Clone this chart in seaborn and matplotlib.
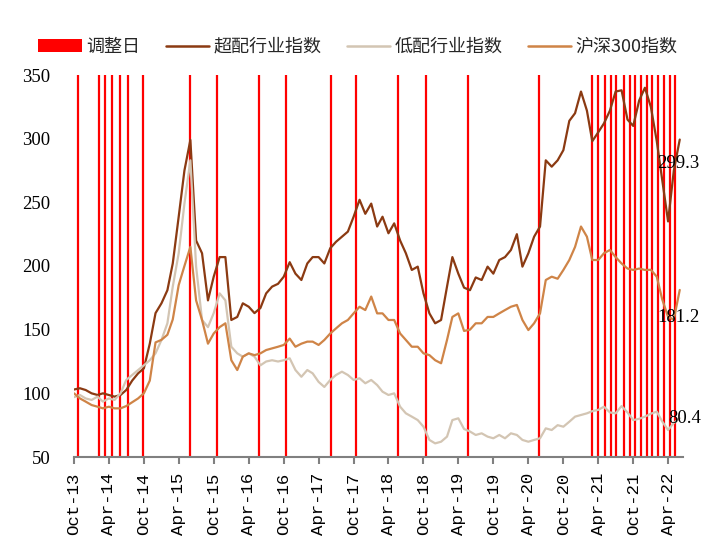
import numpy as np
import pandas as pd
import matplotlib
matplotlib.use('Agg')
import matplotlib.pyplot as plt
import matplotlib.dates as mdates
from matplotlib.patches import Patch
from matplotlib.lines import Line2D
import seaborn as sns

# ---------------- data ----------------
dates = pd.date_range('2013-10-01', '2022-06-01', freq='MS')

overweight = [103, 104, 102.6, 100, 98.7, 100, 98.7, 97.4, 98.7, 102.6,
              110, 115.7, 119.6, 139, 163, 170.7, 181, 202, 238.7, 275,
              299, 220, 210, 173, 191.6, 207, 207, 157.6, 160, 170.7,
              168, 163, 167, 178.5, 183.8, 186, 191.6, 203, 194, 189,
              202, 207, 207, 202, 214, 219, 223, 227, 238.7, 252,
              241, 249, 231, 238.7, 225.7, 233.5, 220, 210, 196.9, 199.5,
              178.5, 162.8, 155, 157.6, 183.8, 207, 194, 183, 181, 191,
              189, 199.5, 194, 204.7, 207, 212.6, 225, 199.5, 210, 223,
              231, 283, 278, 283, 291, 314, 320, 337, 322, 298,
              305, 312, 322, 337, 338, 315, 310, 330, 340, 325,
              298, 268, 235, 275, 299.3]

underweight = [97, 98.7, 96, 94.8, 97.4, 93.5, 96, 94.8, 100, 110.5,
               114.4, 118.3, 122, 126, 131.4, 141.9, 155, 183.8, 210, 249,
               283, 199.5, 157.6, 152, 163, 178.5, 173, 136.6, 131.4, 128.8,
               131.4, 128.8, 122, 125, 126, 125, 126, 127.5, 118.3, 113,
               118.3, 115.7, 109, 105, 110.5, 114.4, 117, 114.4, 110.5, 111.8,
               107.9, 110.5, 106.5, 101.3, 98.7, 100, 89.5, 84.3, 81.7, 79,
               73.8, 63.4, 60.7, 62, 66, 79, 80.4, 72, 70, 67.3,
               68.6, 66, 64.7, 67.3, 64.7, 68.6, 67.3, 63.4, 62, 63.4,
               64.7, 72.5, 71.2, 75, 73.8, 77.7, 81.7, 83, 84.3, 86,
               87, 89.5, 85, 84.3, 90, 85, 79, 80, 81.7, 84,
               85.6, 78, 71.2, 76.7, 80.4]

hs300 = [100, 96, 93.5, 90.8, 89.5, 88.2, 89.5, 88.2, 88.2, 90,
         93, 96, 100, 110, 140, 142, 146, 158, 185, 200,
         215, 173, 157.6, 139, 147, 152, 155, 126, 118.3, 128.8,
         131.4, 130, 131.4, 134, 135.3, 136.6, 138, 143, 136.6, 139,
         140.6, 140.6, 138, 141.9, 147, 151, 155, 157.6, 162.8, 168,
         165.4, 176, 162.8, 162.8, 157.6, 157.6, 147, 141.9, 136.6, 136.6,
         131.4, 130, 126, 123.6, 141.9, 160, 162.8, 149, 150, 155,
         155, 160, 160, 162.8, 165.4, 168, 169.4, 157.6, 149.7, 155,
         162.8, 189, 191.6, 190, 196.9, 204.7, 215, 231, 223, 204.7,
         204.7, 210, 212.6, 207, 202, 198, 196.9, 198, 196.9, 197,
         191.6, 174, 160, 158, 181.2]

adjust_dates = ['2013-10-24', '2014-02-07', '2014-03-12', '2014-04-16', '2014-05-29',
                '2014-07-12', '2014-09-29', '2015-05-30', '2015-10-17', '2016-05-25',
                '2016-10-13', '2017-06-04', '2017-10-15', '2018-05-19', '2018-10-13',
                '2019-05-20', '2020-05-29', '2021-02-27', '2021-03-30', '2021-05-07',
                '2021-06-07', '2021-07-01', '2021-08-13', '2021-09-13', '2021-10-10',
                '2021-11-10', '2021-12-10', '2022-01-07', '2022-02-08', '2022-03-13',
                '2022-04-13', '2022-05-07']

series_names = ['超配行业指数', '低配行业指数', '沪深300指数']
adjust_label = '调整日'
end_labels = ['299.3', '181.2', '80.4']
tick_dates = pd.date_range('2013-10-01', '2022-04-01', freq='6MS')

# ---------------- styling ----------------
sns.set_theme(style='white')
plt.rcParams['font.family'] = ['Liberation Serif', 'Noto Sans CJK SC', 'DejaVu Sans']

colors = {'超配行业指数': '#8B3A12', '低配行业指数': '#D3C5B3', '沪深300指数': '#CF8447'}

df = pd.DataFrame({'date': list(dates) * 3,
                   'value': overweight + underweight + hs300,
                   'series': [s for s in series_names for _ in dates]})

fig = plt.figure(figsize=(7.11, 5.53), dpi=100)
ax = fig.add_axes([74 / 711, 96 / 553, (683 - 74) / 711, (457 - 75) / 553])

for d in pd.to_datetime(adjust_dates):
    ax.axvline(d, color='#FF0000', lw=1.6, zorder=1)

sns.lineplot(data=df, x='date', y='value', hue='series', hue_order=series_names,
             palette=colors, lw=1.6, ax=ax, legend=False, zorder=3)

ax.set_xlim(pd.Timestamp('2013-10-01'), pd.Timestamp('2022-06-18'))
ax.set_ylim(50, 350)
ax.set_yticks(np.arange(50, 351, 50))
ax.set_xticks(tick_dates)
ax.xaxis.set_major_formatter(mdates.DateFormatter('%b-%y'))
ax.set_xlabel('')
ax.set_ylabel('')

for sp in ['top', 'right', 'left']:
    ax.spines[sp].set_visible(False)
ax.spines['bottom'].set_color('#808080')
ax.spines['bottom'].set_linewidth(1.5)
ax.tick_params(axis='x', bottom=True, length=5, width=1.5, color='#808080',
               pad=6, labelrotation=90, labelsize=12.5, labelcolor='black')
ax.tick_params(axis='y', left=False, length=0, pad=17, labelsize=13.5, labelcolor='black')
for lab in ax.get_xticklabels():
    lab.set_family(['Liberation Mono', 'DejaVu Sans Mono'])
for lab in ax.get_yticklabels():
    lab.set_family(['Liberation Serif'])

# end-value labels
last = dates[-1]
ends = [overweight[-1], hs300[-1], underweight[-1]]
offsets = [(-16, -17), (-16, -20), (-8, 0)]
for txt, val, off in zip(end_labels, ends, offsets):
    ax.annotate(txt, xy=(last, val), xytext=off, textcoords='offset points',
                ha='left', va='center', fontsize=13.5, color='black',
                family=['Liberation Serif'], annotation_clip=False, zorder=5)

handles = [Patch(facecolor='#FF0000', edgecolor='none')] + \
          [Line2D([0], [0], color=colors[s], lw=1.8) for s in series_names]
labels = [adjust_label] + series_names
fig.legend(handles, labels, loc='center', bbox_to_anchor=(358 / 711, 1 - 47 / 553),
           ncol=4, frameon=False, handlelength=2.4, handleheight=0.75,
           handletextpad=0.25, columnspacing=1.4, borderaxespad=0,
           prop={'family': ['Noto Sans CJK SC', 'DejaVu Sans'], 'size': 13})

fig.savefig('out.png', dpi=100)
